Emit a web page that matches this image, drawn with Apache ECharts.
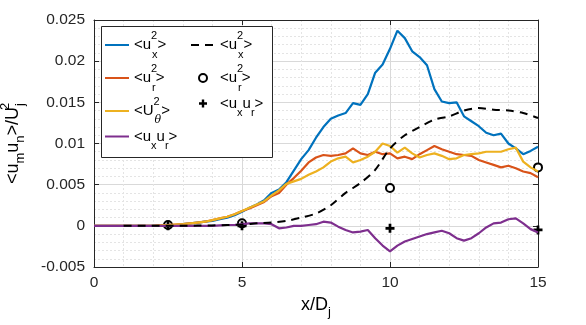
<!DOCTYPE html>
<html>
<head>
<meta charset="utf-8">
<title>Reynolds stresses along the jet</title>
<script src="https://cdn.jsdelivr.net/npm/echarts@6.0.0/dist/echarts.min.js"></script>
<style>
html, body { margin: 0; padding: 0; background: #fff; }
#main { width: 586px; height: 325px; }
</style>
</head>
<body>
<div id="main"></div>
<script>
// x/Dj positions of the simulation profiles
var xs = [0, 0.25, 0.5, 0.75, 1, 1.25, 1.5, 1.75, 2, 2.25, 2.5, 2.75, 3, 3.25, 3.5, 3.75,
  4, 4.25, 4.5, 4.75, 5, 5.25, 5.5, 5.75, 6, 6.25, 6.5, 6.75, 7, 7.25, 7.5, 7.75,
  8, 8.25, 8.5, 8.75, 9, 9.25, 9.5, 9.75, 10, 10.25, 10.5, 10.75, 11, 11.25, 11.5, 11.75,
  12, 12.25, 12.5, 12.75, 13, 13.25, 13.5, 13.75, 14, 14.25, 14.5, 14.75, 15];

var uxxLes = [0, 0, 0, 0, 0, 0, 0, 0, 0, 0.00005, 0.0001, 0.0001, 0.0002, 0.0003, 0.0004, 0.0005,
  0.0006, 0.0008, 0.0010, 0.0013, 0.0017, 0.0022, 0.0026, 0.0031, 0.0040, 0.0044, 0.0053, 0.0067, 0.0081, 0.0092, 0.0107, 0.0120,
  0.0130, 0.0134, 0.0137, 0.0149, 0.0147, 0.0160, 0.0186, 0.0196, 0.0215, 0.0237, 0.0228, 0.0212, 0.0205, 0.0195, 0.0166, 0.0151,
  0.0149, 0.0150, 0.0133, 0.0127, 0.0121, 0.0113, 0.0110, 0.0112, 0.0100, 0.0094, 0.0087, 0.0091, 0.0096];

var urrLes = [0, 0, 0, 0, 0, 0, 0, 0, 0, 0.00005, 0.0001, 0.00015, 0.0002, 0.0003, 0.0004, 0.0005,
  0.0007, 0.0009, 0.0011, 0.0014, 0.0018, 0.0021, 0.0025, 0.0029, 0.0036, 0.0040, 0.0050, 0.0058, 0.0067, 0.0077, 0.0083, 0.0086,
  0.0085, 0.0086, 0.0088, 0.0094, 0.0088, 0.0086, 0.0090, 0.0087, 0.0088, 0.0082, 0.0084, 0.0081, 0.0087, 0.0092, 0.0097, 0.0093,
  0.0090, 0.0087, 0.0086, 0.0085, 0.0080, 0.0077, 0.0074, 0.0071, 0.0073, 0.0070, 0.0066, 0.0064, 0.0059];

var uttLes = [0, 0, 0, 0, 0, 0, 0, 0, 0, 0.00005, 0.0001, 0.00015, 0.0002, 0.0003, 0.0004, 0.0005,
  0.0007, 0.0009, 0.0011, 0.0014, 0.0018, 0.0022, 0.0026, 0.0030, 0.0037, 0.0043, 0.0051, 0.0054, 0.0057, 0.0062, 0.0066, 0.0071,
  0.0078, 0.0082, 0.0084, 0.0077, 0.0080, 0.0084, 0.0090, 0.0100, 0.0097, 0.0089, 0.0095, 0.0088, 0.0083, 0.0086, 0.0088, 0.0085,
  0.0081, 0.0082, 0.0086, 0.0087, 0.0088, 0.0090, 0.0090, 0.0090, 0.0093, 0.0095, 0.0078, 0.0071, 0.0066];

var uxrLes = [0, 0, 0, 0, 0, 0, 0, 0, 0, 0, 0, 0, 0, 0, 0, 0,
  0, 0.00005, 0.0001, 0.0001, 0.0002, 0.0003, 0.0003, 0.0003, 0.0002, -0.0003, -0.0002, 0.0000, 0.0000, 0.0001, 0.0002, 0.0005,
  0.0004, -0.0001, -0.0005, -0.0008, -0.0007, -0.0005, -0.0015, -0.0024, -0.0031, -0.0024, -0.0019, -0.0016, -0.0013, -0.0010, -0.0008, -0.0006,
  -0.0009, -0.0015, -0.0018, -0.0015, -0.0009, -0.0002, 0.0003, 0.0004, 0.0008, 0.0009, 0.0003, -0.0004, -0.0008];

// dashed reference profile
var xsExp = [1, 1.5, 2, 2.5, 3, 3.5, 4, 4.5, 5, 5.5, 6, 6.5, 7, 7.5, 8, 8.5, 9, 9.5, 10,
  10.5, 11, 11.5, 12, 12.5, 13, 13.5, 14, 14.5, 15];
var uxxExp = [0, 0, 0, 0, 0, 0.00003, 0.00005, 0.0001, 0.00015, 0.0003, 0.0004, 0.0006, 0.0010, 0.0015, 0.0025, 0.0040, 0.0052, 0.0068, 0.0094,
  0.0110, 0.0120, 0.0129, 0.0133, 0.0140, 0.0143, 0.0141, 0.0140, 0.0137, 0.0131];

// point measurements
var xsMeas = [2.5, 5, 10, 15];
var urrMeas = [0.0001, 0.0003, 0.0046, 0.0071];
var uxrMeas = [0, 0, -0.0003, -0.0005];

function pairs(x, y) {
  return x.map(function (v, i) { return [v, y[i]]; });
}

var font = '"Liberation Sans", Arial, Helvetica, sans-serif';
var ink = '#262626';
var plus = 'path://M3.5,0H6.5V3.5H10V6.5H6.5V10H3.5V6.5H0V3.5H3.5Z';

// tex-like labels: m = main, p = superscript, b = subscript
var legendRich = {
  m: { fontSize: 15, lineHeight: 30, fontFamily: font, color: '#000' },
  p: { fontSize: 11, lineHeight: 11, verticalAlign: 'top', width: 1, fontFamily: font, color: '#000' },
  b: { fontSize: 11, lineHeight: 17, verticalAlign: 'bottom', fontFamily: font, color: '#000' },
  t: { fontSize: 11, lineHeight: 17, verticalAlign: 'bottom', fontStyle: 'italic', fontFamily: '"DejaVu Serif", serif', color: '#000' }
};
var nameRich = {
  m: { fontSize: 18, lineHeight: 28, fontFamily: font, color: '#000' },
  p: { fontSize: 13, lineHeight: 11, verticalAlign: 'top', width: 1, fontFamily: font, color: '#000' },
  b: { fontSize: 13, lineHeight: 17, verticalAlign: 'bottom', fontFamily: font, color: '#000' }
};
var legendText = {
  'uxx': '{m|<u}{p|2}{b|x}{m|>}',
  'urr': '{m|<u}{p|2}{b|r}{m|>}',
  'utt': '{m|<U}{p|2}{t|θ}{m|>}',
  'uxr': '{m|<u}{b|x}{m|u}{b|r}{m|>}',
  'uxx ': '{m|<u}{p|2}{b|x}{m|>}',
  'urr ': '{m|<u}{p|2}{b|r}{m|>}',
  'uxr ': '{m|<u}{b|x}{m|u}{b|r}{m|>}'
};
var hideDot = { opacity: 0 };
var markStyle = { color: '#000', borderColor: '#000', borderWidth: 2, opacity: 1 };

var chart = echarts.init(document.getElementById('main'));
chart.setOption({
  animation: false,
  backgroundColor: '#fff',
  grid: { left: 94, right: 48, top: 20, bottom: 58, containLabel: false, outerBoundsMode: 'none' },
  legend: [{
    data: [
      { name: 'uxx', itemStyle: hideDot },
      { name: 'urr', itemStyle: hideDot },
      { name: 'utt', itemStyle: hideDot },
      { name: 'uxr', itemStyle: hideDot }
    ],
    orient: 'vertical',
    left: 104, top: 30, padding: 0,
    itemWidth: 24, itemHeight: 8, itemGap: 3,
    selectedMode: false,
    formatter: function (n) { return legendText[n]; },
    textStyle: { rich: legendRich },
    z: 6
  }, {
    data: [
      { name: 'uxx ', itemStyle: hideDot },
      { name: 'urr ', icon: 'emptyCircle', itemStyle: markStyle },
      { name: 'uxr ', icon: plus, itemStyle: { color: '#000', borderWidth: 0, opacity: 1 } }
    ],
    orient: 'vertical',
    left: 190, top: 30, padding: 0,
    itemWidth: 24, itemHeight: 8, itemGap: 3,
    selectedMode: false,
    formatter: function (n) { return legendText[n]; },
    textStyle: { rich: legendRich },
    z: 6
  }],
  graphic: [{
    type: 'rect',
    shape: { x: 101.5, y: 26.5, width: 171, height: 131 },
    style: { fill: '#fff', stroke: ink, lineWidth: 1 },
    z: 5
  }],
  xAxis: [{
    type: 'value', min: 0, max: 15, interval: 5,
    name: '{m|x/D}{b|j}', nameLocation: 'middle', nameGap: 18,
    nameTextStyle: { rich: nameRich },
    axisLine: { show: true, onZero: false, lineStyle: { color: ink } },
    axisTick: { inside: true, length: 5, lineStyle: { color: ink } },
    axisLabel: { fontSize: 15.5, color: ink, fontFamily: font, margin: 8 },
    splitLine: { lineStyle: { color: '#d9d9d9' } },
    minorTick: { show: false, splitNumber: 5 },
    minorSplitLine: { show: true, lineStyle: { color: '#e4e4e4', type: [2, 2] } }
  }, {
    type: 'value', min: 0, max: 15, interval: 5, position: 'top',
    axisLine: { show: true, onZero: false, lineStyle: { color: ink } },
    axisTick: { inside: true, length: 5, lineStyle: { color: ink } },
    axisLabel: { show: false },
    splitLine: { show: false }
  }],
  yAxis: [{
    type: 'value', min: -0.005, max: 0.025, interval: 0.005,
    name: '{m|<u}{b|m}{m|u}{b|n}{m|>/U}{p|2}{b|j}', nameLocation: 'middle', nameGap: 67,
    nameTextStyle: { rich: nameRich },
    axisLine: { show: true, onZero: false, lineStyle: { color: ink } },
    axisTick: { inside: true, length: 5, lineStyle: { color: ink } },
    axisLabel: {
      fontSize: 15.5, color: ink, fontFamily: font, margin: 9,
      formatter: function (v) { return String(+v.toFixed(3)); }
    },
    splitLine: { lineStyle: { color: '#d9d9d9' } },
    minorTick: { show: false, splitNumber: 5 },
    minorSplitLine: { show: true, lineStyle: { color: '#e4e4e4', type: [2, 2] } }
  }, {
    type: 'value', min: -0.005, max: 0.025, interval: 0.005, position: 'right',
    axisLine: { show: true, onZero: false, lineStyle: { color: ink } },
    axisTick: { inside: true, length: 5, lineStyle: { color: ink } },
    axisLabel: { show: false },
    splitLine: { show: false }
  }],
  series: [
    { name: 'uxx', type: 'line', data: pairs(xs, uxxLes), symbol: 'none',
      lineStyle: { color: '#0072BD', width: 2.2 }, itemStyle: { color: '#0072BD' } },
    { name: 'urr', type: 'line', data: pairs(xs, urrLes), symbol: 'none',
      lineStyle: { color: '#D95319', width: 2.2 }, itemStyle: { color: '#D95319' } },
    { name: 'utt', type: 'line', data: pairs(xs, uttLes), symbol: 'none',
      lineStyle: { color: '#EDB120', width: 2.2 }, itemStyle: { color: '#EDB120' } },
    { name: 'uxr', type: 'line', data: pairs(xs, uxrLes), symbol: 'none',
      lineStyle: { color: '#7E2F8E', width: 2.2 }, itemStyle: { color: '#7E2F8E' } },
    { name: 'uxx ', type: 'line', data: pairs(xsExp, uxxExp), symbol: 'none', smooth: 0.3,
      lineStyle: { color: '#000', width: 2, type: [8, 6] }, itemStyle: { color: '#000' } },
    { name: 'urr ', type: 'scatter', data: pairs(xsMeas, urrMeas), symbol: 'emptyCircle', symbolSize: 8,
      itemStyle: markStyle },
    { name: 'uxr ', type: 'scatter', data: pairs(xsMeas, uxrMeas), symbol: plus, symbolSize: 9,
      itemStyle: { color: '#000', opacity: 1 } }
  ]
});
</script>
</body>
</html>
